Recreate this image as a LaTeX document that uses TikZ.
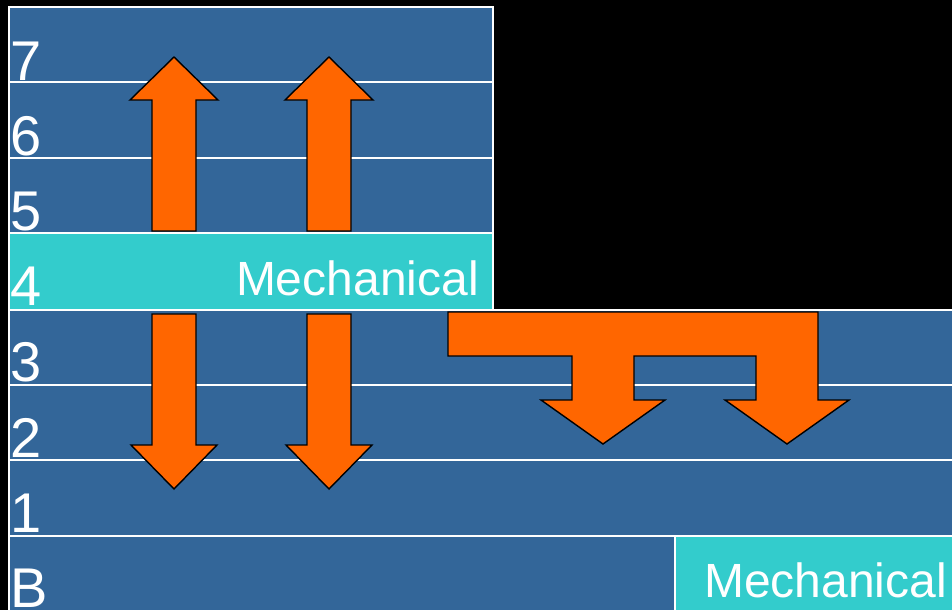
\documentclass[tikz,border=0pt]{standalone}
\usepackage{fontspec}
\setmainfont{Liberation Sans}
\definecolor{bblue}{HTML}{336699}
\definecolor{bcyan}{HTML}{33CCCC}
\definecolor{borange}{HTML}{FF6600}
\begin{document}
\begin{tikzpicture}[x=1pt,y=-1pt,
  wline/.style={white,line width=1.6pt},
  arrowshape/.style={fill=borange,draw=black,line width=1.4pt,line join=miter},
  floornum/.style={text=white,font=\fontsize{56}{56}\selectfont,anchor=base west,inner sep=0pt},
  mechlabel/.style={text=white,font=\fontsize{48}{48}\selectfont,anchor=base east,inner sep=0pt}]
\fill[black] (0,0) rectangle (952,610);
\useasboundingbox (0,0) rectangle (952,610);
% upper building
\fill[bblue] (9,7) rectangle (493,310);
\fill[bcyan] (9,233) rectangle (493,309);
% lower building
\fill[bblue] (9,310) rectangle (952,610);
\fill[bcyan] (675,536) rectangle (952,610);
% white lines
\draw[wline] (9,610) -- (9,7) -- (493,7) -- (493,310);
\foreach \yy in {82,158,233} \draw[wline] (9,\yy) -- (493,\yy);
\foreach \yy in {310,385,460,536} \draw[wline] (9,\yy) -- (952,\yy);
\draw[wline] (675,536) -- (675,610);
% floor numbers
\node[floornum] (f7) at (10,80) {7};
\node[floornum] (f6) at (10,155) {6};
\node[floornum] (f5) at (10,230) {5};
\node[floornum] (f4) at (10,305) {4};
\node[floornum] (f3) at (10,381) {3};
\node[floornum] (f2) at (10,457) {2};
\node[floornum] (f1) at (10,532) {1};
\node[floornum] (fb) at (10,607) {B};
% labels
\node[mechlabel] (m4) at (479,295) {Mechanical};
\node[mechlabel] (mb) at (947,597) {Mechanical};
% up and down arrows
\foreach \dx in {0,155} {
  \draw[arrowshape] (152+\dx,231) -- (152+\dx,100) -- (130+\dx,100) -- (174+\dx,57) -- (218+\dx,100) -- (196+\dx,100) -- (196+\dx,231) -- cycle;
  \draw[arrowshape] (152+\dx,314) -- (196+\dx,314) -- (196+\dx,445) -- (217+\dx,445) -- (174+\dx,489) -- (131+\dx,445) -- (152+\dx,445) -- cycle;
}
% T-shaped split arrow
\draw[arrowshape] (448,312) -- (818,312) -- (818,400) -- (849,400) -- (787,444) -- (725,400) -- (756,400) -- (756,356) -- (634,356) -- (634,400) -- (665,400) -- (603,444) -- (541,400) -- (572,400) -- (572,356) -- (448,356) -- cycle;
\end{tikzpicture}
\end{document}
